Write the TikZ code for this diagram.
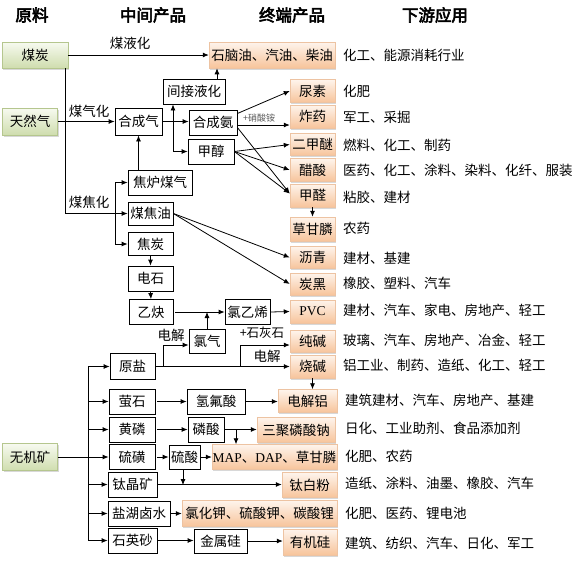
\documentclass[tikz,border=0pt]{standalone}
\usepackage{fontspec}
\setmainfont{Liberation Serif}
\newfontfamily\cjk{Noto Sans CJK SC}
\newfontfamily\cjkb{Noto Sans CJK SC}[FakeBold=3.5]
\usetikzlibrary{arrows.meta,shadows}
\definecolor{otop}{HTML}{FEF4EC}
\definecolor{obot}{HTML}{F7C49B}
\definecolor{obrd}{HTML}{EDC3A2}
\definecolor{gtop}{HTML}{F7FAF0}
\definecolor{gbot}{HTML}{CFDDAE}
\definecolor{gbrd}{HTML}{B5C68E}
\tikzset{
  base/.style={font=\cjk\fontsize{13.5}{16}\selectfont, inner sep=0pt, anchor=center},
  wbox/.style={base, draw=black, line width=0.8pt, fill=white},
  obox/.style={base, draw=obrd, line width=0.5pt, top color=otop, bottom color=obot,
     drop shadow={shadow xshift=1.3pt, shadow yshift=-1.5pt, fill=black!30, opacity=0.5}},
  gbox/.style={base, draw=gbrd, line width=0.5pt, top color=gtop, bottom color=gbot,
     drop shadow={shadow xshift=1.3pt, shadow yshift=-1.5pt, fill=black!30, opacity=0.5}},
  hdr/.style={base, font=\cjkb\fontsize{16.5}{18}\selectfont},
  txt/.style={base, anchor=west},
  lbl/.style={base},
  slbl/.style={base, font=\cjk\fontsize{9}{10}\selectfont, text=black!65},
  ln/.style={line width=0.8pt},
  arr/.style={line width=0.8pt, -{Latex[length=6pt,width=5pt]}},
}
\begin{document}
\begin{tikzpicture}[x=1pt,y=-1pt]
\useasboundingbox[fill=white] (0,0) rectangle (578,563);
% headers
\node[hdr] (h1) at (32,15) {原料};
\node[hdr] (h2) at (153,15) {中间产品};
\node[hdr] (h3) at (292,15) {终端产品};
\node[hdr] (h4) at (435,15) {下游应用};
% raw materials
\node[gbox, minimum width=66pt, minimum height=26pt] (coal) at (35,55) {煤炭};
\node[gbox, minimum width=55pt, minimum height=27pt] (gas) at (30,121.5) {天然气};
\node[gbox, minimum width=55pt, minimum height=27pt] (mineral) at (30,457) {无机矿};
% end products
\node[obox, minimum width=126pt, minimum height=26pt] (naphtha) at (272,55) {石脑油、汽油、柴油};
\node[obox, minimum width=45pt, minimum height=23pt] (urea) at (312.5,91) {尿素};
\node[obox, minimum width=45pt, minimum height=23pt] (expl) at (312.5,116.5) {炸药};
\node[obox, minimum width=45pt, minimum height=22pt] (dme) at (312.5,144.5) {二甲醚};
\node[obox, minimum width=45pt, minimum height=23pt] (acetic) at (312.5,170) {醋酸};
\node[obox, minimum width=45pt, minimum height=23pt] (formald) at (312.5,195.5) {甲醛};
\node[obox, minimum width=45pt, minimum height=24pt] (glyph) at (312.5,229) {草甘膦};
\node[obox, minimum width=45pt, minimum height=22pt] (asphalt) at (312.5,257.5) {沥青};
\node[obox, minimum width=45pt, minimum height=22pt] (cblack) at (312.5,284) {炭黑};
\node[obox, minimum width=45pt, minimum height=23pt] (pvc) at (312.5,311.5) {\rmfamily PVC};
\node[obox, minimum width=45pt, minimum height=22pt] (soda) at (312.5,341.5) {纯碱};
\node[obox, minimum width=45pt, minimum height=23pt] (caustic) at (312.5,366.5) {烧碱};
\node[obox, minimum width=59pt, minimum height=23pt] (alu) at (307.5,401) {电解铝};
\node[obox, minimum width=78pt, minimum height=25pt] (stpp) at (296,430) {三聚磷酸钠};
\node[obox, minimum width=125pt, minimum height=25pt] (map) at (274.5,457) {{\rmfamily MAP}、{\rmfamily DAP}、草甘膦};
\node[obox, minimum width=55pt, minimum height=25pt] (tio2) at (309.5,485) {钛白粉};
\node[obox, minimum width=155pt, minimum height=26pt] (kcl) at (259.5,513.5) {氯化钾、硫酸钾、碳酸锂};
\node[obox, minimum width=54pt, minimum height=26pt] (silicone) at (310,542) {有机硅};
% intermediate
\node[wbox, minimum width=47pt, minimum height=27pt] (syngas) at (138.5,121.5) {合成气};
\node[wbox, minimum width=62pt, minimum height=25pt] (indliq) at (194,91.5) {间接液化};
\node[wbox, minimum width=48pt, minimum height=25pt] (ammonia) at (213,122.5) {合成氨};
\node[wbox, minimum width=46pt, minimum height=25pt] (methanol) at (211,151.5) {甲醇};
\node[wbox, minimum width=64pt, minimum height=25pt] (cokegas) at (160,182.5) {焦炉煤气};
\node[wbox, minimum width=45pt, minimum height=23pt] (tar) at (150.5,213.5) {煤焦油};
\node[wbox, minimum width=45pt, minimum height=23pt] (coke) at (150.5,244) {焦炭};
\node[wbox, minimum width=45pt, minimum height=25pt] (carbide) at (150.5,278.5) {电石};
\node[wbox, minimum width=44pt, minimum height=25pt] (acet) at (151,312) {乙炔};
\node[wbox, minimum width=45pt, minimum height=25pt] (vcm) at (247.5,312) {氯乙烯};
\node[wbox, minimum width=36pt, minimum height=24pt] (cl2) at (207,341) {氯气};
\node[wbox, minimum width=45pt, minimum height=26pt] (salt) at (132.5,366.5) {原盐};
\node[wbox, minimum width=46pt, minimum height=25pt] (fluor) at (132,401.5) {萤石};
\node[wbox, minimum width=46pt, minimum height=25pt] (yp) at (132,429.5) {黄磷};
\node[wbox, minimum width=46pt, minimum height=25pt] (sulfur) at (132,457) {硫磺};
\node[wbox, minimum width=49pt, minimum height=25pt] (ilmen) at (132.5,484.5) {钛晶矿};
\node[wbox, minimum width=62pt, minimum height=25pt] (brine) at (139,513.5) {盐湖卤水};
\node[wbox, minimum width=49pt, minimum height=25pt] (quartz) at (132.5,540.5) {石英砂};
\node[wbox, minimum width=58pt, minimum height=25pt] (hf) at (216,401.5) {氢氟酸};
\node[wbox, minimum width=36pt, minimum height=25pt] (h3po4) at (206,429.5) {磷酸};
\node[wbox, minimum width=31pt, minimum height=24pt] (h2so4) at (184.5,457) {硫酸};
\node[wbox, minimum width=53pt, minimum height=24pt] (si) at (220.5,541) {金属硅};
% applications
\node[txt] (a1) at (343,55) {化工、能源消耗行业};
\node[txt] (a2) at (343,91) {化肥};
\node[txt] (a3) at (343,117) {军工、采掘};
\node[txt] (a4) at (343,145) {燃料、化工、制药};
\node[txt] (a5) at (343,170) {医药、化工、涂料、染料、化纤、服装};
\node[txt] (a6) at (343,197) {粘胶、建材};
\node[txt] (a7) at (343,228) {农药};
\node[txt] (a8) at (343,258) {建材、基建};
\node[txt] (a9) at (343,283) {橡胶、塑料、汽车};
\node[txt] (a10) at (343,310) {建材、汽车、家电、房地产、轻工};
\node[txt] (a11) at (343,340) {玻璃、汽车、房地产、冶金、轻工};
\node[txt] (a12) at (343,365) {铝工业、制药、造纸、化工、轻工};
\node[txt] (a13) at (345,400) {建筑建材、汽车、房地产、基建};
\node[txt] (a14) at (345,428) {日化、工业助剂、食品添加剂};
\node[txt] (a15) at (345,456) {化肥、农药};
\node[txt] (a16) at (345,483) {造纸、涂料、油墨、橡胶、汽车};
\node[txt] (a17) at (345,513) {化肥、医药、锂电池};
\node[txt] (a18) at (345,543) {建筑、纺织、汽车、日化、军工};
% coal liquefaction
\draw[arr] (coal.east) -- (naphtha.west);
\node[lbl] (l1) at (130,43) {煤液化};
% coal coking trunk
\coordinate (cj) at (65,213.5);
\coordinate (cb) at (115,213.5);
\draw[ln] (coal.south -| cj) -- (cj) -- (cb);
\draw[ln] (cb |- cokegas) -- (cb |- coke);
\draw[arr] (cb |- cokegas) -- (cokegas.west);
\draw[arr] (cb) -- (tar.west);
\draw[arr] (cb |- coke) -- (coke.west);
\node[lbl] (l3) at (89,202) {煤焦化};
% gas
\draw[arr] (gas.east) -- (syngas.west);
\node[lbl] (l2) at (89,111) {煤气化};
\draw[arr] (syngas.south |- cokegas.north) -- (syngas.south);
\draw[arr] (syngas.east) -- (ammonia.west |- syngas.east);
\coordinate (sj) at (173,121.5);
\draw[arr] (sj) -- (sj |- indliq.south);
\draw[arr] (sj) |- (methanol.west);
\draw[arr] ([xshift=23pt]indliq.north) -- ([xshift=23pt]indliq.north |- naphtha.south);
% ammonia & methanol
\draw[arr] ([yshift=9pt]ammonia.east) -- (urea.west);
\draw[arr] ([yshift=-2.5pt]ammonia.east) -- ([yshift=-2.5pt]ammonia.east -| expl.west);
\node[slbl] (l4) at (259,118.5) {+硝酸铵};
\draw[arr] ([yshift=-5pt]ammonia.east) -- ([yshift=2pt]formald.west);
\draw[arr] (methanol.east) -- (dme.west);
\draw[arr] (methanol.east) -- (acetic.west);
\draw[arr] (methanol.east) -- ([yshift=2pt]formald.west);
\draw[arr] (formald.south) -- (glyph.north);
% tar
\draw[arr] (tar.east) -- (asphalt.west);
\draw[arr] (tar.east) -- (cblack.west);
% coke chain
\draw[arr] (coke.south) -- (carbide.north);
\draw[arr] (carbide.south) -- (acet.north);
\draw[arr] ([xshift=2pt]acet.east) -- (vcm.west);
\draw[arr] (cl2.north) -- (cl2.north |- vcm.west);
\draw[arr] (vcm.east) -- (pvc.west);
% salt
\draw[arr] (salt.east) -- (caustic.west);
\node[lbl] (l6) at (267,356) {电解};
\coordinate (b1) at (163,366.5);
\draw[arr] (b1) |- ([yshift=-4pt]cl2.west);
\node[lbl] (l5) at (171,335) {电解};
\coordinate (b2) at (240,366.5);
\draw[arr] (b2) |- ([yshift=-3.5pt]soda.west);
\node[lbl, font=\cjk\fontsize{12.5}{14}\selectfont] (l7) at (262,333) {+石灰石};
\draw[arr] (caustic.south) -- (alu.north -| caustic.south);
% minerals
\coordinate (mt) at (88,366.5);
\coordinate (mb) at (88,540.5);
\draw[ln] (mt) -- (mb);
\draw[arr] (mineral.east) -- (sulfur.west);
\draw[arr] (mt) -- (salt.west);
\draw[arr] (mt |- fluor) -- (fluor.west);
\draw[arr] (mt |- yp) -- (yp.west);
\draw[arr] (mt |- ilmen) -- (ilmen.west);
\draw[arr] (mt |- brine) -- (brine.west);
\draw[arr] (mb) -- (quartz.west);
\draw[arr] ([xshift=2pt]fluor.east) -- (hf.west);
\draw[arr] (hf.east) -- (alu.west |- hf.east);
\draw[arr] ([xshift=2pt]yp.east) -- (h3po4.west);
\draw[arr] (h3po4.east) -- (stpp.west |- h3po4.east);
\coordinate (pj) at (236,429.5);
\draw[arr] (pj) -- (pj |- map.north);
\draw[arr] ([xshift=2pt]sulfur.east) -- (h2so4.west);
\draw[arr] (h2so4.east) -- (map.west);
\draw[arr] ([xshift=-1.5pt]h2so4.south) -- ([xshift=-1.5pt]h2so4.south |- tio2.west);
\draw[arr] (ilmen.east) -- (tio2.west |- ilmen.east);
\draw[arr] (brine.east) -- (kcl.west |- brine.east);
\draw[arr] (quartz.east) -- (si.west |- quartz.east);
\draw[arr] (si.east) -- (silicone.west |- si.east);
\end{tikzpicture}
\end{document}
